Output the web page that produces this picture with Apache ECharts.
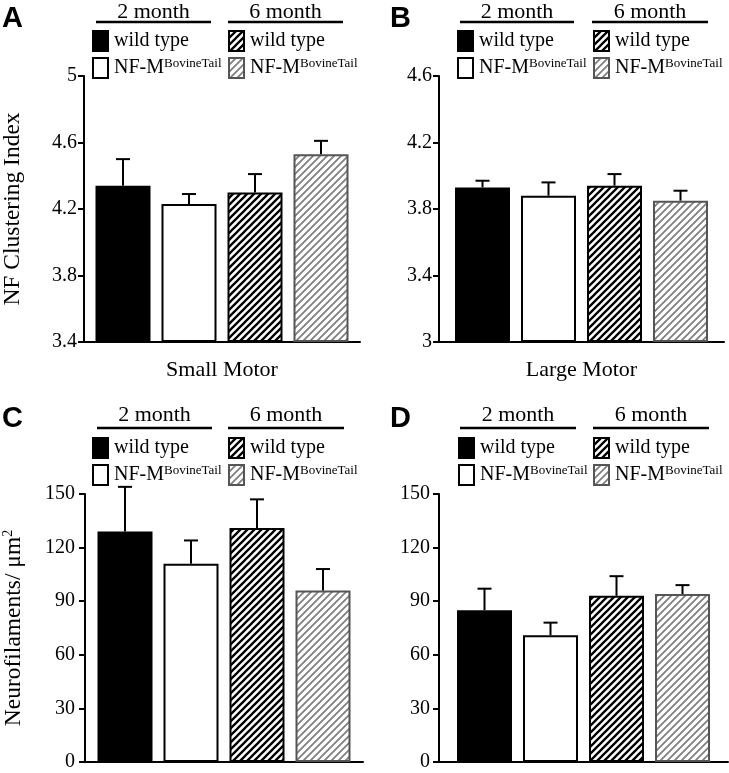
<!DOCTYPE html>
<html><head><meta charset="utf-8">
<script src="https://cdn.jsdelivr.net/npm/echarts@6/dist/echarts.min.js"></script>
<style>html,body{margin:0;padding:0;background:#fff}#c{width:729px;height:773px}</style>
</head><body><div id="c"></div>
<script>
// ---------------- data ----------------
const seriesNames = ['2 month wild type', '2 month NF-M BovineTail', '6 month wild type', '6 month NF-M BovineTail'];
const groupLabels = ['2 month', '6 month'];
const panelLetters = ['A', 'B', 'C', 'D'];
const categoryA = ['Small Motor'];
const categoryB = ['Large Motor'];
const categoryC = [''];
const categoryD = [''];
const yNameA = 'NF Clustering Index';
const yNameC = 'Neurofilaments/ μm{s|2}';

const ticksA = [3.4, 3.8, 4.2, 4.6, 5];
const ticksB = [3, 3.4, 3.8, 4.2, 4.6];
const ticksC = [0, 30, 60, 90, 120, 150];
const ticksD = [0, 30, 60, 90, 120, 150];

const clusteringSmallMean = [4.34, 4.23, 4.30, 4.53];
const clusteringSmallErr  = [0.16, 0.06, 0.11, 0.08];
const clusteringLargeMean = [3.93, 3.88, 3.94, 3.85];
const clusteringLargeErr  = [0.04, 0.08, 0.07, 0.06];
const densityCMean = [129, 111, 131, 96];
const densityCErr  = [25, 13, 16, 12];
const densityDMean = [85, 71, 93, 94];
const densityDErr  = [12, 7, 11, 5];

// ---------------- styling / layout ----------------
const SERIF = 'Liberation Serif';
function hatch(color, size, lw) {
  const c = document.createElement('canvas');
  c.width = size; c.height = size;
  const g = c.getContext('2d');
  g.fillStyle = '#fff'; g.fillRect(0, 0, size, size);
  g.strokeStyle = color; g.lineWidth = lw; g.lineCap = 'square';
  g.beginPath();
  g.moveTo(0, size); g.lineTo(size, 0);
  g.moveTo(-1, 1); g.lineTo(1, -1);
  g.moveTo(size - 1, size + 1); g.lineTo(size + 1, size - 1);
  g.stroke();
  return { image: c, repeat: 'repeat' };
}
const barStyles = [
  { color: '#000', borderColor: '#000', borderWidth: 2 },
  { color: '#fff', borderColor: '#000', borderWidth: 2 },
  { color: hatch('#000', 7, 2.3), borderColor: '#000', borderWidth: 2 },
  { color: hatch('#808080', 7, 1.8), borderColor: '#555', borderWidth: 2 }
];
const BAR_W = 55, BAR_GAP = 11;

const panels = [
  { grid: { left: 73, top: 76, width: 287, height: 266 }, cats: categoryA, ticks: ticksA, mean: clusteringSmallMean, err: clusteringSmallErr, yName: yNameA, showCat: true, tickMargin: 7,
    letter: [2, 4], legendL: [92, 30], legendR: [228, 30], hdrY: 12, lineY: 22, hdr: [[96, 211], [228, 343]] },
  { grid: { left: 439, top: 76, width: 285, height: 266 }, cats: categoryB, ticks: ticksB, mean: clusteringLargeMean, err: clusteringLargeErr, yName: '', showCat: true, tickMargin: 7,
    letter: [390, 4], legendL: [457, 30], legendR: [593, 30], hdrY: 12, lineY: 22, hdr: [[460, 574], [592, 708]] },
  { grid: { left: 73, top: 494, width: 290, height: 268 }, cats: categoryC, ticks: ticksC, mean: densityCMean, err: densityCErr, yName: yNameC, showCat: false, tickMargin: 10,
    letter: [2, 404], legendL: [92, 437], legendR: [228, 437], hdrY: 415, lineY: 428, hdr: [[97, 212], [228, 344]] },
  { grid: { left: 439, top: 494, width: 289, height: 268 }, cats: categoryD, ticks: ticksD, mean: densityDMean, err: densityDErr, yName: '', showCat: false, tickMargin: 9,
    letter: [390, 404], legendL: [458, 437], legendR: [593, 437], hdrY: 415, lineY: 428, hdr: [[460, 576], [593, 709]] }
];

function legendFmt(name) {
  const label = name.replace(/^\d month /, '');
  if (label.indexOf('NF-M') === 0) return '{n|NF-M}{s|BovineTail}';
  return '{n|' + label + '}';
}
const legendRich = {
  n: { fontSize: 20, fontFamily: SERIF, color: '#000', lineHeight: 21 },
  s: { fontSize: 13, fontFamily: SERIF, color: '#000', lineHeight: 13, padding: [0, 0, 9, 0] }
};
const legendText = { fontFamily: SERIF, fontSize: 20, color: '#000', rich: legendRich, padding: [0, 0, 0, 1] };

const option = {
  animation: false,
  backgroundColor: '#fff',
  textStyle: { fontFamily: SERIF },
  title: [], grid: [], xAxis: [], yAxis: [], legend: [], series: [], graphic: []
};

panels.forEach((p, k) => {
  option.title.push({ text: panelLetters[k], left: p.letter[0], top: p.letter[1], padding: 0,
    textStyle: { fontFamily: 'Liberation Sans', fontWeight: 'bold', fontSize: 29, color: '#000' } });
  option.grid.push(Object.assign({ containLabel: false }, p.grid));
  option.xAxis.push({
    type: 'category', gridIndex: k, data: p.cats,
    axisLine: { lineStyle: { color: '#000', width: 2 } },
    axisTick: { show: false },
    axisLabel: { show: p.showCat, margin: 17, fontSize: 22, fontFamily: SERIF, color: '#000' }
  });
  option.yAxis.push({
    type: 'value', gridIndex: k,
    min: p.ticks[0], max: p.ticks[p.ticks.length - 1], startValue: p.ticks[0],
    axisLine: { show: true, lineStyle: { color: '#000', width: 2 } },
    axisTick: { show: true, length: 6, lineStyle: { color: '#000', width: 2 }, customValues: p.ticks },
    axisLabel: { margin: p.tickMargin, fontSize: 20, fontFamily: SERIF, color: '#000', customValues: p.ticks },
    splitLine: { show: false },
    name: p.yName, nameLocation: 'middle', nameGap: 59,
    nameTextStyle: { fontSize: 23.5, fontFamily: SERIF, color: '#000',
      rich: { s: { fontSize: 14, fontFamily: SERIF, color: '#000', padding: [0, 0, 11, 0] } } }
  });
  option.legend.push(
    { data: seriesNames.slice(0, 2), orient: 'vertical', left: p.legendL[0], top: p.legendL[1], padding: 0,
      itemWidth: 15, itemHeight: 20, itemGap: 5, icon: 'rect', selectedMode: false, formatter: legendFmt,
      textStyle: legendText },
    { data: seriesNames.slice(2, 4), orient: 'vertical', left: p.legendR[0], top: p.legendR[1], padding: 0,
      itemWidth: 15, itemHeight: 20, itemGap: 5, icon: 'rect', selectedMode: false, formatter: legendFmt,
      textStyle: legendText }
  );
  seriesNames.forEach((nm, i) => {
    option.series.push({
      type: 'bar', name: nm, xAxisIndex: k, yAxisIndex: k,
      data: [p.mean[i]], barWidth: BAR_W, barGap: (BAR_GAP / BAR_W * 100) + '%',
      itemStyle: barStyles[i], clip: true, z: 2
    });
  });
  option.series.push({
    type: 'custom', name: 'error' + k, xAxisIndex: k, yAxisIndex: k, z: 5, clip: false,
    encode: { x: 0, y: 1 },
    data: p.mean.map((m, i) => [0, m, p.err[i], i]),
    renderItem: function (params, api) {
      const m = api.value(1), e = api.value(2), i = api.value(3);
      const base = api.coord([0, m]);
      const top = api.coord([0, m + e]);
      const x = base[0] + (i - 1.5) * (BAR_W + BAR_GAP);
      const st = { stroke: '#000', lineWidth: 2 };
      return { type: 'group', children: [
        { type: 'line', shape: { x1: x, y1: base[1], x2: x, y2: top[1] }, style: st },
        { type: 'line', shape: { x1: x - 7, y1: top[1], x2: x + 7, y2: top[1] }, style: st }
      ] };
    }
  });
  groupLabels.forEach((g, j) => {
    const [x1, x2] = p.hdr[j];
    option.graphic.push(
      { type: 'text', x: (x1 + x2) / 2, y: p.hdrY, style: { text: g, textAlign: 'center', textVerticalAlign: 'middle',
        font: '22px "Liberation Serif"', fill: '#000' } },
      { type: 'line', shape: { x1: x1, y1: p.lineY, x2: x2, y2: p.lineY }, style: { stroke: '#000', lineWidth: 2.5 } }
    );
  });
});

const chart = echarts.init(document.getElementById('c'), null, { renderer: 'canvas' });
chart.setOption(option);
</script>
</body></html>
